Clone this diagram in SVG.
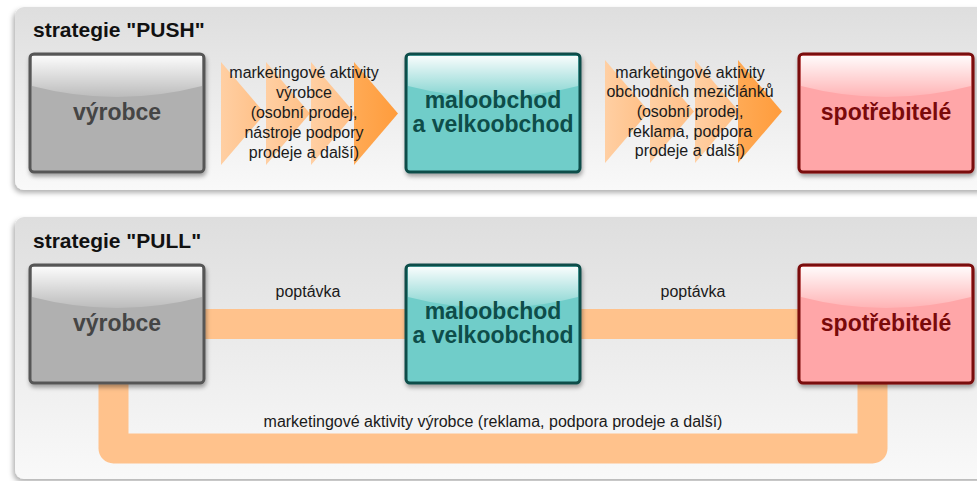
<svg xmlns="http://www.w3.org/2000/svg" width="977" height="481" viewBox="0 0 977 481">
<defs>
<linearGradient id="panelG" x1="0" y1="0" x2="0" y2="1">
<stop offset="0" stop-color="#dedede"/>
<stop offset="1" stop-color="#f9f9f9"/>
</linearGradient>
<linearGradient id="gloss" x1="0" y1="0" x2="0" y2="1">
<stop offset="0" stop-color="#ffffff" stop-opacity="0.95"/>
<stop offset="1" stop-color="#ffffff" stop-opacity="0.15"/>
</linearGradient>
<linearGradient id="chevL" x1="0" y1="0" x2="1" y2="0">
<stop offset="0" stop-color="#ffcfa3"/>
<stop offset="1" stop-color="#ffbf85"/>
</linearGradient>
<linearGradient id="chevD" x1="0" y1="0" x2="1" y2="0">
<stop offset="0" stop-color="#ffaa55"/>
<stop offset="1" stop-color="#ff9c3c"/>
</linearGradient>
<filter id="pshadow" x="-5%" y="-10%" width="110%" height="125%">
<feDropShadow dx="-2" dy="3" stdDeviation="2.5" flood-color="#000" flood-opacity="0.3"/>
</filter>
<filter id="bshadow" x="-10%" y="-10%" width="125%" height="130%">
<feDropShadow dx="1" dy="3" stdDeviation="2" flood-color="#000" flood-opacity="0.35"/>
</filter>
<path id="chev" d="M0,0 L44,51.5 L0,103 Z"/>
</defs>
<style>
.panel{fill:url(#panelG);filter:url(#pshadow);}
.title{font-family:"Liberation Sans",Arial,sans-serif;font-weight:bold;font-size:21px;fill:#111;}
.boxlabel{font-family:"Liberation Sans",Arial,sans-serif;font-weight:bold;font-size:23px;text-anchor:middle;}
.small{font-family:"Liberation Sans",Arial,sans-serif;font-size:16px;fill:#1a1a1a;text-anchor:middle;}
.gray rect.b{fill:#b0b0b0;stroke:#575757;stroke-width:3;}
.teal rect.b{fill:#6fcdc9;stroke:#0e4d4a;stroke-width:3;}
.red rect.b{fill:#ffa6a8;stroke:#7a0a0a;stroke-width:3;}
.gl{fill:url(#gloss);}
.band{fill:none;stroke:#ffc28c;stroke-width:30;stroke-linejoin:round;}
.cl{fill:url(#chevL);}
.cd{fill:url(#chevD);}
</style>

<g id="panel-push">
<rect class="panel" x="15" y="7" width="975" height="183" rx="9"/>
<text class="title" x="33" y="37">strategie "PUSH"</text>
</g>
<g id="panel-pull">
<rect class="panel" x="15" y="217" width="975" height="262" rx="9"/>
<text class="title" x="33" y="248">strategie "PULL"</text>
</g>

<g id="connectors">
<g id="push-chevrons-1">
<use href="#chev" class="cl" x="221" y="62"/>
<use href="#chev" class="cl" x="266" y="62"/>
<use href="#chev" class="cl" x="311" y="62"/>
<use href="#chev" class="cd" x="354" y="62"/>
</g>
<g id="push-chevrons-2">
<use href="#chev" class="cl" x="605" y="60"/>
<use href="#chev" class="cl" x="650" y="60"/>
<use href="#chev" class="cl" x="695" y="60"/>
<use href="#chev" class="cd" x="738" y="60"/>
</g>
<path class="band" d="M200,324 H410"/>
<path class="band" d="M576,324 H802"/>
<path class="band" d="M113.5,380 V448.5 H872.5 V380"/>
<text class="small" x="304" y="78">marketingové aktivity</text>
<text class="small" x="304" y="98">výrobce</text>
<text class="small" x="304" y="118">(osobní prodej,</text>
<text class="small" x="304" y="138">nástroje podpory</text>
<text class="small" x="304" y="158">prodeje a další)</text>
<text class="small" x="690" y="78">marketingové aktivity</text>
<text class="small" x="690" y="97">obchodních mezičlánků</text>
<text class="small" x="690" y="117">(osobní prodej,</text>
<text class="small" x="690" y="137">reklama, podpora</text>
<text class="small" x="690" y="156">prodeje a další)</text>
<text class="small" x="308" y="297">poptávka</text>
<text class="small" x="693" y="297">poptávka</text>
<text class="small" x="493" y="427">marketingové aktivity výrobce (reklama, podpora prodeje a další)</text>
</g>

<g id="push-vyrobce" class="gray">
<rect class="b" x="30" y="54" width="174" height="118" rx="4" filter="url(#bshadow)"/>
<path class="gl" d="M32,56 H202 V86 Q117,108 32,86 Z"/>
<text class="boxlabel" x="117" y="120" fill="#454545">výrobce</text>
</g>
<g id="push-maloobchod" class="teal">
<rect class="b" x="406" y="54" width="174" height="118" rx="4" filter="url(#bshadow)"/>
<path class="gl" d="M408,56 H578 V86 Q493,108 408,86 Z"/>
<text class="boxlabel" x="493" y="108" fill="#0e4d4a">maloobchod</text>
<text class="boxlabel" x="493" y="132" fill="#0e4d4a">a velkoobchod</text>
</g>
<g id="push-spotrebitele" class="red">
<rect class="b" x="799" y="54" width="174" height="118" rx="4" filter="url(#bshadow)"/>
<path class="gl" d="M801,56 H971 V86 Q886,108 801,86 Z"/>
<text class="boxlabel" x="886" y="120" fill="#7a0a0a">spotřebitelé</text>
</g>

<g id="pull-vyrobce" class="gray">
<rect class="b" x="30" y="265" width="174" height="118" rx="4" filter="url(#bshadow)"/>
<path class="gl" d="M32,267 H202 V297 Q117,319 32,297 Z"/>
<text class="boxlabel" x="117" y="331" fill="#454545">výrobce</text>
</g>
<g id="pull-maloobchod" class="teal">
<rect class="b" x="406" y="265" width="174" height="118" rx="4" filter="url(#bshadow)"/>
<path class="gl" d="M408,267 H578 V297 Q493,319 408,297 Z"/>
<text class="boxlabel" x="493" y="319" fill="#0e4d4a">maloobchod</text>
<text class="boxlabel" x="493" y="343" fill="#0e4d4a">a velkoobchod</text>
</g>
<g id="pull-spotrebitele" class="red">
<rect class="b" x="799" y="265" width="174" height="118" rx="4" filter="url(#bshadow)"/>
<path class="gl" d="M801,267 H971 V297 Q886,319 801,297 Z"/>
<text class="boxlabel" x="886" y="331" fill="#7a0a0a">spotřebitelé</text>
</g>
</svg>
